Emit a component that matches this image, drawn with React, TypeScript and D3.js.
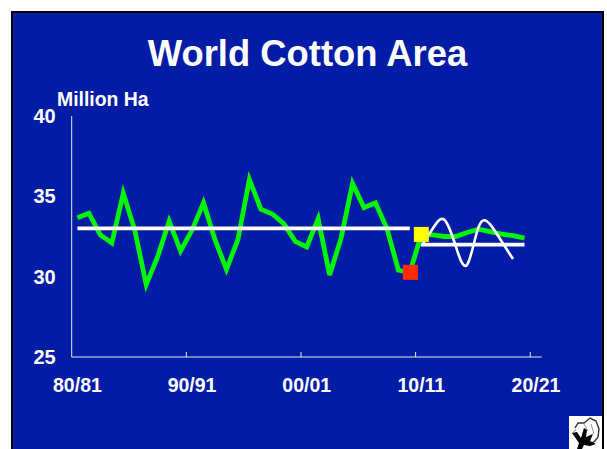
import * as d3 from "d3";
import React, { useRef, useEffect } from "react";

const seasons = ["80/81","81/82","82/83","83/84","84/85","85/86","86/87","87/88","88/89","89/90","90/91","91/92","92/93","93/94","94/95","95/96","96/97","97/98","98/99","99/00","00/01","01/02","02/03","03/04","04/05","05/06","06/07","07/08","08/09","09/10","10/11","11/12","12/13","13/14","14/15","15/16","16/17","17/18","18/19","19/20","20/21"];
const tickLabels = ["80/81", "90/91", "00/01", "10/11", "20/21"];
const yTicks = [25, 30, 35, 40];

const area = [33.67,33.95,32.6,32.1,35.2,32.9,29.5,31.25,33.45,31.6,32.9,34.6,32.3,30.45,32.3,36.05,34.2,33.9,33.3,32.2,31.85,33.6,30.1,32.4,35.8,34.3,34.6,33.0,30.4,30.27,32.63,32.6,32.5,32.5,32.75,32.95,32.8,32.65,32.55,32.4];
const cycleSeasons = seasons.slice(30, 39);
const cycle = [31.9,33.0,33.55,31.9,30.75,33.1,33.25,32.2,31.1];
const histMean = 33.0;
const projMean = 32.0;
const lowSeason = "09/10";
const lowValue = 30.27;
const startSeason = "10/11";
const startValue = 32.63;

const W = 607, H = 449;
const ml = 71.7, mr = 541.7, mt = 116, mb = 357;
const font = "Liberation Sans, Arial, sans-serif";

const x = d3.scaleBand(seasons, [ml, mr]);
const y = d3.scaleLinear([25, 40], [mb, mt]);
const cx = (s: string) => (x(s) as number) + x.bandwidth() / 2;

const lineGreen = d3.line<number>().x((_, i) => cx(seasons[i])).y(d => y(d));
const lineCycle = d3.line<number>().x((_, i) => cx(cycleSeasons[i])).y(d => y(d)).curve(d3.curveNatural);

const App: React.FC = () => {
  const gx = useRef(null);
  const gy = useRef(null);

  useEffect(() => {
    const sx = d3.select(gx.current as unknown as SVGGElement);
    sx.call(d3.axisBottom(x).tickValues(tickLabels).tickSize(0).tickPadding(21));
    sx.select(".domain").remove();
    sx.selectAll("text").attr("font-family", font).attr("font-size", 19.5).attr("font-weight", "bold").attr("fill", "#fff");
    const sy = d3.select(gy.current as unknown as SVGGElement);
    sy.call(d3.axisLeft(y).tickValues(yTicks).tickSize(0).tickPadding(16));
    sy.select(".domain").remove();
    sy.selectAll("text").attr("font-family", font).attr("font-size", 20).attr("font-weight", "bold").attr("fill", "#fff");
  }, []);

  return (
    <svg width={W} height={H} style={{ position: "absolute", left: 0, top: 0, display: "block" }}>
      <rect x={0} y={0} width={W} height={H} fill="#fff" />
      <rect x={11} y={11} width={593} height={H} fill="#000" />
      <rect x={13} y={13} width={589} height={H} fill="#031ca6" />
      <text x={307.5} y={66} textAnchor="middle" fontFamily={font} fontWeight="bold" fontSize={36.4} fill="#fff">World Cotton Area</text>
      <text x={57} y={106} fontFamily={font} fontWeight="bold" fontSize={19.4} fill="#fff">Million Ha</text>

      <g stroke="#e6e9f6" strokeWidth={1} fill="none">
        <path d={`M${ml},${mt}V${mb}H${mr}`} />
        {tickLabels.slice(1).map(t => <path key={t} d={`M${x(t)},${mb}v-5`} />)}
      </g>
      <g ref={gx} transform={`translate(0, ${mb})`} />
      <g ref={gy} transform={`translate(${ml}, 0)`} />

      <path d={lineGreen(area) as string} fill="none" stroke="#00f500" strokeWidth={4.8} strokeLinejoin="miter" />
      <line x1={cx(seasons[0])} x2={cx(lowSeason)} y1={y(histMean)} y2={y(histMean)} stroke="#fff" strokeWidth={3.8} />
      <line x1={cx(startSeason)} x2={cx("19/20")} y1={y(projMean)} y2={y(projMean)} stroke="#fff" strokeWidth={3.8} />
      <path d={lineCycle(cycle) as string} fill="none" stroke="#fff" strokeWidth={2.6} />
      <rect x={cx(lowSeason) - 7} y={y(lowValue) - 7.5} width={15} height={15} fill="#ff2a00" />
      <rect x={cx(startSeason) - 7.5} y={y(startValue) - 7.5} width={15} height={15} fill="#ffff00" />

      <g>
        <rect x={569} y={416} width={33} height={33} fill="#fff" />
        <path d="M575,428 L578,423 L584,423 L590,418 L596,421 L599,429 L598,437 L594,442 L589,444" fill="none" stroke="#333" strokeWidth={1.4} />
        <path d="M572,434 L576,429 M584,424 L588,431 M591,424 L594,434" stroke="#999" strokeWidth={1} fill="none" />
        <path d="M572,433 L577,432 L581,438 L584,428 L587,430 L586,437 L593,434 L590,441 L596,444 L590,446 L584,445 L582,449 L577,449 L579,443 Z" fill="#000" />
      </g>
    </svg>
  );
};

export default App;
